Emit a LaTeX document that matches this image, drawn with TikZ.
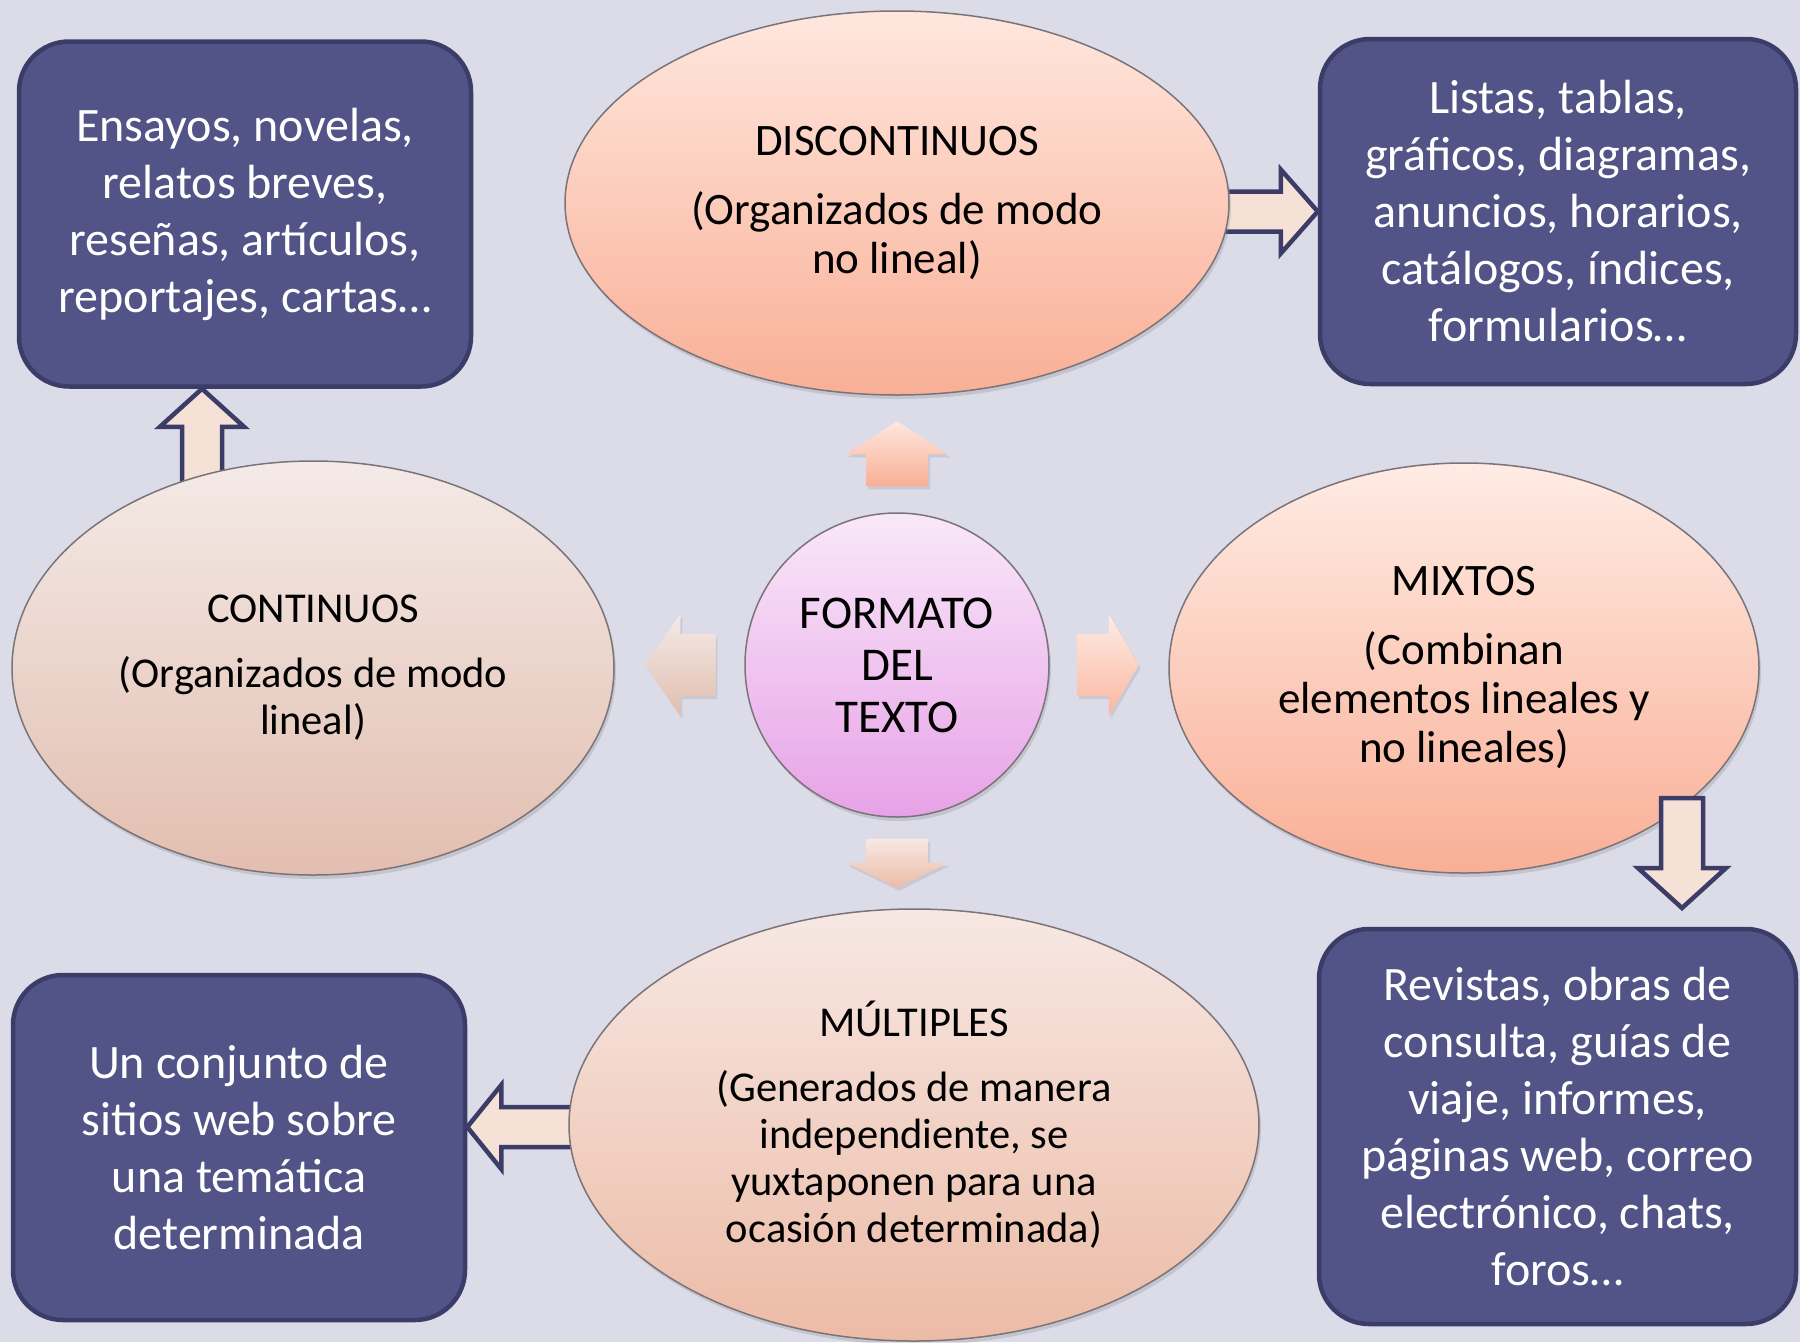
\documentclass[tikz,border=0pt]{standalone}
\usepackage{fontspec}
\setmainfont{Carlito}
\usepackage{tikz}
\usetikzlibrary{positioning,calc,shapes.geometric,shadows}

\definecolor{bgcol}{HTML}{DCDCE9}
\definecolor{boxfill}{HTML}{525488}
\definecolor{boxline}{HTML}{3C3C68}
\definecolor{cream}{HTML}{F5E1D5}
\definecolor{ovalline}{HTML}{7A7478}
\definecolor{salmontop}{HTML}{FFE7DE}
\definecolor{salmonbot}{HTML}{F9AF96}
\definecolor{beigetop}{HTML}{F4EAE7}
\definecolor{beigebot}{HTML}{E2BEAF}
\definecolor{peachtop}{HTML}{F7E8E3}
\definecolor{peachbot}{HTML}{ECBBA6}
\definecolor{mauvetop}{HTML}{F9E8F9}
\definecolor{mauvebot}{HTML}{E7A2E7}

\newcommand{\ovaltitle}[2][45]{{\fontsize{#1}{50}\selectfont #2}}

\tikzset{
  arrshaft/.store in=\arrshaft, arrhead/.store in=\arrhead, arrlen/.store in=\arrlen,
  arrshaft=20, arrhead=42, arrlen=36,
  block path/.style={to path={let \p1=(\tikztostart), \p2=(\tikztotarget),
      \n1={atan2(\y2-\y1,\x2-\x1)}, \n2={veclen(\x2-\x1,\y2-\y1)} in
      [shift={(\p1)}, rotate=\n1]
      (0pt,\arrshaft pt) -- ({\n2-\arrlen pt},\arrshaft pt) -- ({\n2-\arrlen pt},\arrhead pt)
      -- (\n2,0pt) -- ({\n2-\arrlen pt},-\arrhead pt) -- ({\n2-\arrlen pt},-\arrshaft pt)
      -- (0pt,-\arrshaft pt) -- cycle}},
  fat edge/.style={block path, draw=boxline, line width=4.5pt, fill=cream, line join=miter},
  small edge/.style={block path, arrshaft=31, arrhead=51, draw=none,
      drop shadow={shadow xshift=2pt, shadow yshift=-3pt, opacity=.2}}
}

\begin{document}
\begin{tikzpicture}[x=1pt,y=-1pt,
    oval node/.style={ellipse,draw=ovalline,line width=1.5pt,inner sep=0pt,align=center,
      font=\fontsize{45}{49}\selectfont,
      drop shadow={shadow xshift=2pt, shadow yshift=-4pt, opacity=.25}},
    box node/.style={rectangle,rounded corners=50pt,draw=boxline,line width=4.5pt,fill=boxfill,
      text=white,align=center,inner sep=0pt,font=\fontsize{48}{57}\selectfont}]
  \useasboundingbox (0,0) rectangle (1800,1342);
  \fill[bgcol] (0,0) rectangle (1800,1342);

  % boxes
  \node[box node, minimum width=452pt, minimum height=345pt] (tl) at (245,214)
    {Ensayos, novelas,\\relatos breves,\\reseñas, artículos,\\reportajes, cartas…};
  \node[box node, minimum width=476pt, minimum height=345pt] (tr) at (1558,211.5)
    {Listas, tablas,\\gráficos, diagramas,\\anuncios, horarios,\\catálogos, índices,\\formularios…};
  \node[box node, minimum width=452pt, minimum height=345pt] (bl) at (239,1147.5)
    {Un conjunto de\\sitios web sobre\\una temática\\determinada};
  \node[box node, minimum width=477pt, minimum height=395pt] (br) at (1557.5,1126.5)
    {Revistas, obras de\\consulta, guías de\\viaje, informes,\\páginas web, correo\\electrónico, chats,\\foros…};

  % arrows going under the ovals
  \coordinate (disctail) at (1200,211.5);
  \coordinate (conttail) at (202,500);
  \coordinate (multtail) at (575,1127);
  \path (disctail) edge[fat edge, arrlen=37] (tr.west);
  \path (conttail) edge[fat edge, arrlen=38] (tl.south -| conttail);
  \path (multtail) edge[fat edge, arrlen=34] (bl.east |- multtail);

  % ovals
  \node[oval node, top color=salmontop, bottom color=salmonbot,
        minimum width=664pt, minimum height=384pt] (disc) at (897,203)
    {\ovaltitle{DISCONTINUOS}\\[20pt](Organizados de modo\\no lineal)};
  \node[oval node, top color=beigetop, bottom color=beigebot, font=\fontsize{42.5}{47}\selectfont,
        minimum width=602pt, minimum height=414pt] (cont) at (313,668)
    {\ovaltitle[42.5]{CONTINUOS}\\[18pt](Organizados de modo\\lineal)};
  \node[oval node, top color=salmontop!80!white, bottom color=salmonbot,
        minimum width=590pt, minimum height=410pt] (mix) at (1464,668)
    {\ovaltitle{MIXTOS}\\[20pt](Combinan\\elementos lineales y\\no lineales)};
  \node[oval node, top color=peachtop, bottom color=peachbot, font=\fontsize{42.5}{47}\selectfont,
        minimum width=690pt, minimum height=432pt] (mult) at (914,1125)
    {\ovaltitle[42.5]{MÚLTIPLES}\\[18pt](Generados de manera\\independiente, se\\yuxtaponen para una\\ocasión determinada)};
  \node[oval node, circle, top color=mauvetop, bottom color=mauvebot,
        minimum size=304pt, font=\fontsize{47}{52}\selectfont] (hub) at (897,665)
    {FORMATO\\DEL\\TEXTO};

  % arrow from mixtos lies on top
  \coordinate (mixtail) at (1682,798);
  \coordinate (mixtip) at (1682,908);
  \path (mixtail) edge[fat edge, arrshaft=21, arrhead=44, arrlen=40] (mixtip);

  % small arrows round the hub
  \coordinate[above=26pt of hub] (upfoot);
  \coordinate[above=65pt of upfoot] (uptip);
  \coordinate[right=27pt of hub] (rightfoot);
  \coordinate[right=62pt of rightfoot] (righttip);
  \coordinate[below=21pt of hub] (downfoot);
  \coordinate[below=49pt of downfoot] (downtip);
  \coordinate[left=29pt of hub] (leftfoot);
  \coordinate[left=70pt of leftfoot] (lefttip);

  \path (upfoot) edge[small edge, arrlen=33, top color=salmontop, bottom color=salmonbot] (uptip);
  \path (rightfoot) edge[small edge, arrlen=30, top color=salmontop!80!white, bottom color=salmonbot!90!white] (righttip);
  \path (downfoot) edge[small edge, arrlen=25, top color=peachtop, bottom color=peachbot] (downtip);
  \path (leftfoot) edge[small edge, arrlen=35, top color=beigetop, bottom color=beigebot] (lefttip);
\end{tikzpicture}
\end{document}
